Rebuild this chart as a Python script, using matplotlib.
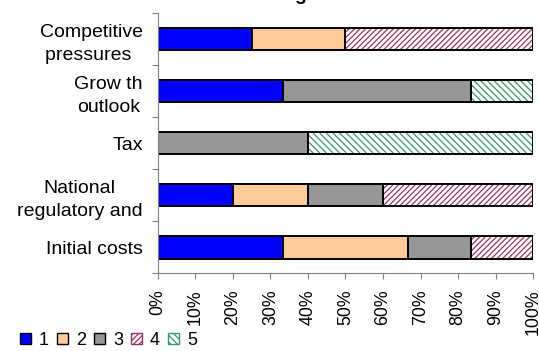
import numpy as np
import matplotlib.pyplot as plt
from matplotlib.patches import Patch
from matplotlib.ticker import PercentFormatter

plt.rcParams['font.family'] = ['Liberation Sans', 'DejaVu Sans']
plt.rcParams['hatch.linewidth'] = 0.9

# categories top to bottom, counts of answers per rating (1..5)
categories = ['Competitive\npressures ', 'Grow th\noutlook', 'Tax',
              'National\nregulatory and', 'Initial costs']
r1 = [1, 2, 0, 1, 2]
r2 = [1, 0, 0, 1, 2]
r3 = [0, 3, 2, 1, 1]
r4 = [2, 0, 0, 2, 1]
r5 = [0, 1, 3, 0, 0]
series_names = ['1', '2', '3', '4', '5']

counts = np.array([r1, r2, r3, r4, r5], dtype=float)
shares = counts / counts.sum(axis=0)

styles = [
    dict(color='#0000ff', hatch=None),
    dict(color='#ffcc99', hatch=None),
    dict(color='#969696', hatch=None),
    dict(color='#993366', hatch='//////'),
    dict(color='#339966', hatch='\\\\\\\\\\'),
]

fig = plt.figure(figsize=(5.39, 3.51), dpi=100)
ax = fig.add_axes([0.293, 0.222, 0.696, 0.741])

y = np.arange(len(categories))[::-1] + 0.5
left = np.zeros(len(categories))
bh = 0.44
for i, st in enumerate(styles):
    w = shares[i]
    m = w > 0
    if st['hatch'] is None:
        ax.barh(y[m], w[m], left=left[m], height=bh, color=st['color'],
                edgecolor='black', linewidth=1.4, zorder=2)
    else:
        ax.barh(y[m], w[m], left=left[m], height=bh, color='white',
                edgecolor=st['color'], hatch=st['hatch'], linewidth=0, zorder=2)
        ax.barh(y[m], w[m], left=left[m], height=bh, fill=False,
                edgecolor='black', linewidth=1.4, zorder=3)
    left += w

ax.set_xlim(0, 1)
ax.set_ylim(0, len(categories))
ax.set_xticks(np.arange(0, 1.01, 0.1))
ax.xaxis.set_major_formatter(PercentFormatter(1.0, decimals=0))
ax.tick_params(axis='x', labelrotation=90, labelsize=12.8, length=4,
               color='#808080', pad=8)
ax.set_yticks(np.arange(len(categories) + 1))
ax.set_yticklabels([])
ax.set_yticks(y, minor=True)
ax.set_yticklabels(categories, minor=True, fontsize=14, linespacing=1.45,
                   multialignment='center')
ax.tick_params(axis='y', which='major', length=4, color='#808080')
ax.tick_params(axis='y', which='minor', length=0, pad=11)
for s in ['top', 'right']:
    ax.spines[s].set_visible(False)
for s in ['left', 'bottom']:
    ax.spines[s].set_color('#808080')

handles = []
for st, name in zip(styles, series_names):
    if st['hatch'] is None:
        handles.append(Patch(facecolor=st['color'], edgecolor='black', label=name))
    else:
        handles.append(Patch(facecolor='white', edgecolor=st['color'],
                             hatch=st['hatch'], label=name))
leg = fig.legend(handles=handles, loc='center left', bbox_to_anchor=(0.02, 0.03),
                 ncol=5, frameon=False, fontsize=13, borderpad=0,
                 handlelength=0.6, handleheight=0.6, handletextpad=0.45,
                 columnspacing=0.45)
for p in leg.get_patches():
    p.set_linewidth(1.0)

# title mostly cut off above the canvas
fig.text(300 / 539, 1.0, 'g', fontsize=14, fontweight='bold', ha='center', va='baseline')

fig.savefig('out.png', dpi=100)
